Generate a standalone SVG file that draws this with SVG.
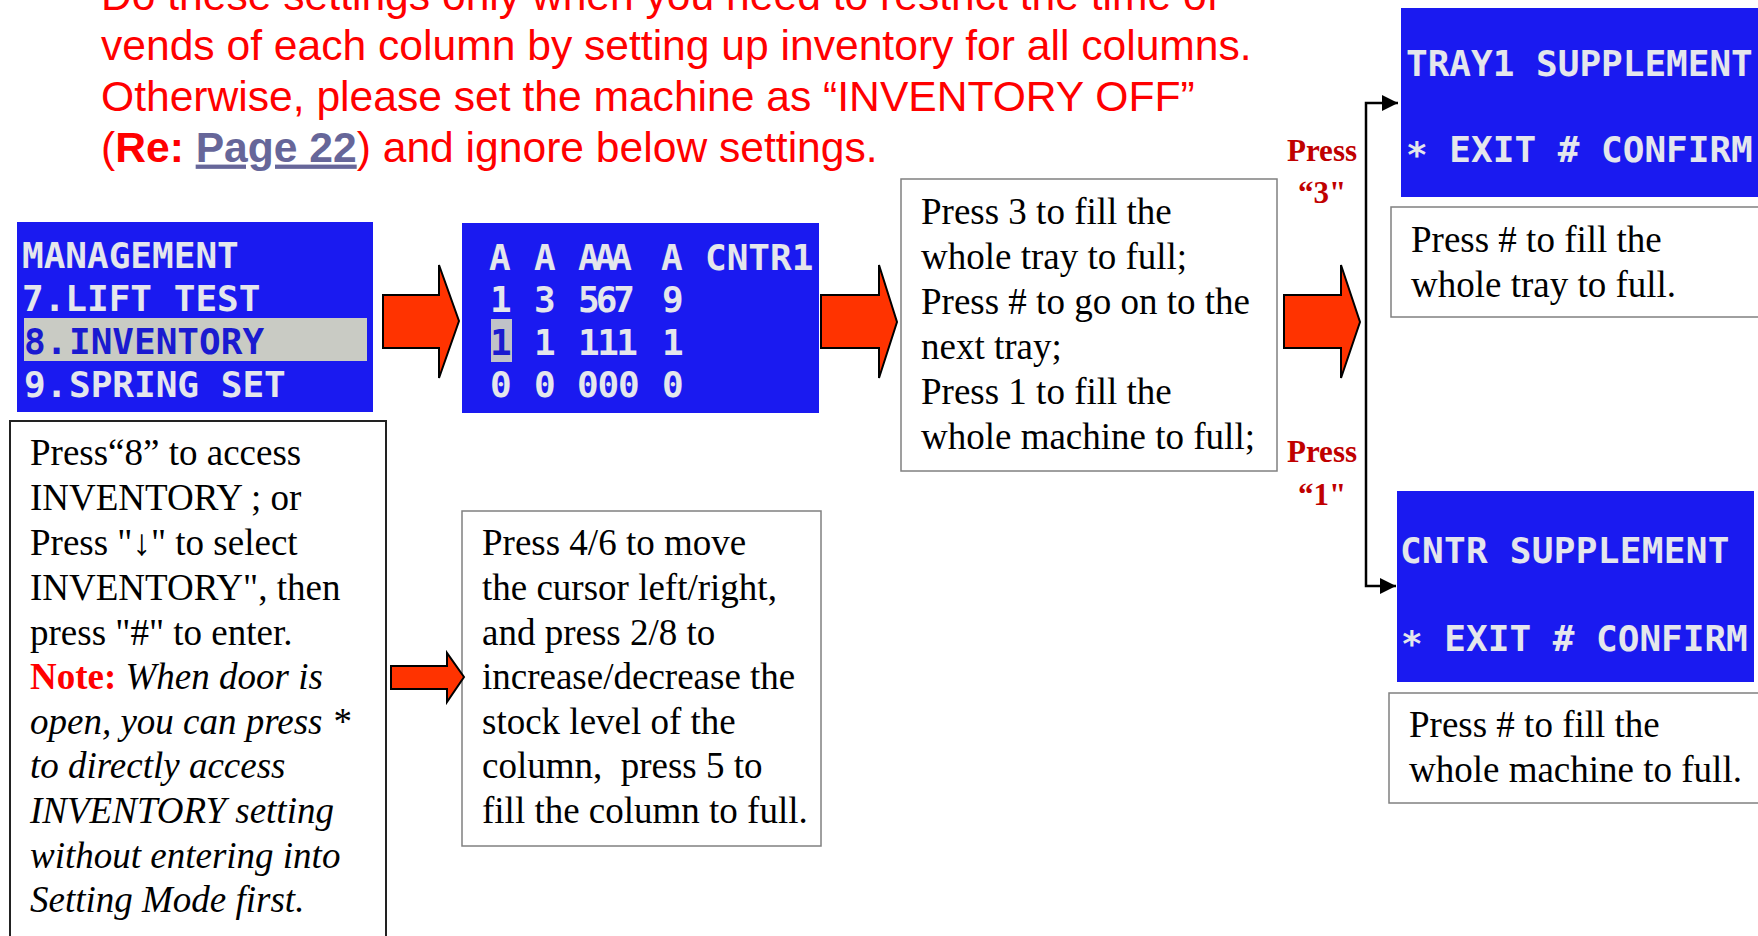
<svg xmlns="http://www.w3.org/2000/svg" width="1758" height="936" viewBox="0 0 1758 936">
<defs>
<style>
.title{font-family:"Liberation Sans",Arial,sans-serif;font-size:42.6px;fill:#FF0000}
.lcdbox{fill:#1A1AF0}
.lcd{font-family:"DejaVu Sans Mono","Liberation Mono",monospace;font-weight:bold;font-size:36px;fill:#E4E6EC}
.box{fill:#FFFFFF;stroke:#808080;stroke-width:1.5}
.boxdark{fill:#FFFFFF;stroke:#222222;stroke-width:2}
.body{font-family:"Liberation Serif","Times New Roman",serif;font-size:37px;fill:#000000}
.lbl{font-family:"Liberation Serif","Times New Roman",serif;font-size:31px;font-weight:bold;fill:#C00000;text-anchor:middle}
.blk{fill:#FF3300;stroke:#000000;stroke-width:2;stroke-linejoin:miter}
.wire{fill:none;stroke:#000000;stroke-width:2.5}
</style>
<marker id="ah" markerUnits="userSpaceOnUse" markerWidth="18" markerHeight="16" refX="16" refY="8" orient="auto"><path d="M0,0 L16,8 L0,16 Z" fill="#000000"/></marker>
</defs>
<rect width="1758" height="936" fill="#FFFFFF"/>

<g id="title">
<text class="title" x="101" y="9.5">Do these settings only when you need to restrict the time of</text>
<text class="title" x="101" y="60.2">vends of each column by setting up inventory for all columns.</text>
<text class="title" x="101" y="110.9">Otherwise, please set the machine as “INVENTORY OFF”</text>
<text class="title" x="101" y="161.6">(<tspan font-weight="bold">Re:</tspan> <tspan font-weight="bold" fill="#666699" text-decoration="underline">Page 22</tspan>) and ignore below settings.</text>
</g>

<g id="node-management">
<rect class="lcdbox" x="17" y="222" width="356" height="190"/>
<rect x="24" y="318" width="343" height="43" fill="#C9CBC4"/>
<text class="lcd" x="22" y="268">MANAGEMENT</text>
<text class="lcd" x="22" y="311">7.LIFT TEST</text>
<text class="lcd" y="354" style="fill:#1A1AD0"><tspan x="24">8.</tspan> <tspan x="69">INVENTORY</tspan></text>
<text class="lcd" y="397"><tspan x="24">9.</tspan> <tspan x="69">SPRING SET</tspan></text>
</g>

<g id="node-counter">
<rect class="lcdbox" x="462" y="223" width="357" height="190"/>
<rect x="491" y="319" width="21" height="43" fill="#C0C2C8"/>
<text class="lcd" y="270"><tspan x="489">A</tspan> <tspan x="534">A</tspan> <tspan x="578" letter-spacing="-5.5">AAA</tspan> <tspan x="661">A</tspan> <tspan x="705">CNTR1</tspan></text>
<text class="lcd" y="312"><tspan x="490">1</tspan> <tspan x="534">3</tspan> <tspan x="578" letter-spacing="-4">567</tspan> <tspan x="662">9</tspan></text>
<text class="lcd" y="355"><tspan x="490" style="fill:#1A1AD0">1</tspan> <tspan x="534">1</tspan> <tspan x="578" letter-spacing="-2.5">111</tspan> <tspan x="662">1</tspan></text>
<text class="lcd" y="397"><tspan x="490">0</tspan> <tspan x="534">0</tspan> <tspan x="577" letter-spacing="-1.2">000</tspan> <tspan x="662">0</tspan></text>
</g>

<g id="node-fill-options">
<rect class="box" x="901" y="179" width="376" height="292"/>
<text class="body" x="921" y="224">Press 3 to fill the</text>
<text class="body" x="921" y="269">whole tray to full;</text>
<text class="body" x="921" y="314">Press # to go on to the</text>
<text class="body" x="921" y="359">next tray;</text>
<text class="body" x="921" y="404">Press 1 to fill the</text>
<text class="body" x="921" y="449">whole machine to full;</text>
</g>

<g id="node-tray-supplement">
<rect class="lcdbox" x="1401" y="8" width="357" height="189"/>
<text class="lcd" x="1406" y="76">TRAY1 SUPPLEMENT</text>
<text class="lcd" x="1406" y="162"><tspan dy="5">*</tspan><tspan dy="-5"> EXIT # CONFIRM</tspan></text>
</g>

<g id="node-tray-note">
<rect class="box" x="1391" y="207" width="380" height="110"/>
<text class="body" x="1411" y="252">Press # to fill the</text>
<text class="body" x="1411" y="297">whole tray to full.</text>
</g>

<g id="node-cntr-supplement">
<rect class="lcdbox" x="1397" y="491" width="357" height="191"/>
<text class="lcd" x="1400" y="563" letter-spacing="0.3">CNTR SUPPLEMENT</text>
<text class="lcd" x="1401" y="651"><tspan dy="5">*</tspan><tspan dy="-5"> EXIT # CONFIRM</tspan></text>
</g>

<g id="node-cntr-note">
<rect class="box" x="1389" y="693" width="380" height="110"/>
<text class="body" x="1409" y="737">Press # to fill the</text>
<text class="body" x="1409" y="782">whole machine to full.</text>
</g>

<g id="node-access-note">
<rect class="boxdark" x="10" y="421" width="376" height="540"/>
<text class="body" x="30" y="465">Press“8” to access</text>
<text class="body" x="30" y="510">INVENTORY ; or</text>
<text class="body" x="30" y="555">Press "↓" to select</text>
<text class="body" x="30" y="600">INVENTORY", then</text>
<text class="body" x="30" y="644.5">press "#" to enter.</text>
<text class="body" x="30" y="689"><tspan font-weight="bold" fill="#FF0000">Note:</tspan> <tspan font-style="italic">When door is</tspan></text>
<text class="body" x="30" y="733.5" font-style="italic">open, you can press *</text>
<text class="body" x="30" y="778" font-style="italic">to directly access</text>
<text class="body" x="30" y="822.5" font-style="italic">INVENTORY setting</text>
<text class="body" x="30" y="867.5" font-style="italic">without entering into</text>
<text class="body" x="30" y="912" font-style="italic">Setting Mode first.</text>
</g>

<g id="node-cursor-note">
<rect class="box" x="462" y="511" width="359" height="335"/>
<text class="body" x="482" y="555">Press 4/6 to move</text>
<text class="body" x="482" y="600">the cursor left/right,</text>
<text class="body" x="482" y="644.5">and press 2/8 to</text>
<text class="body" x="482" y="689">increase/decrease the</text>
<text class="body" x="482" y="733.5">stock level of the</text>
<text class="body" x="482" y="778" xml:space="preserve">column,  press 5 to</text>
<text class="body" x="482" y="822.5">fill the column to full.</text>
</g>

<g id="connectors">
<polygon class="blk" points="383,295 439,295 439,265 459,321 439,378 439,348 383,348"/>
<polygon class="blk" points="821,295 879,295 879,265 897,322 879,378 879,348 821,348"/>
<polygon class="blk" points="1284,295 1341,295 1341,265 1360,322 1341,378 1341,348 1284,348"/>
<polygon class="blk" points="391,666 447,666 447,653 464,677 447,702 447,689 391,689"/>
<path class="wire" d="M1366,322 V103 H1398" marker-end="url(#ah)"/>
<path class="wire" d="M1366,322 V586 H1396" marker-end="url(#ah)"/>
<text class="lbl" x="1322" y="161">Press</text>
<text class="lbl" x="1322" y="203">“3"</text>
<text class="lbl" x="1322" y="462">Press</text>
<text class="lbl" x="1322" y="505">“1"</text>
</g>
</svg>
